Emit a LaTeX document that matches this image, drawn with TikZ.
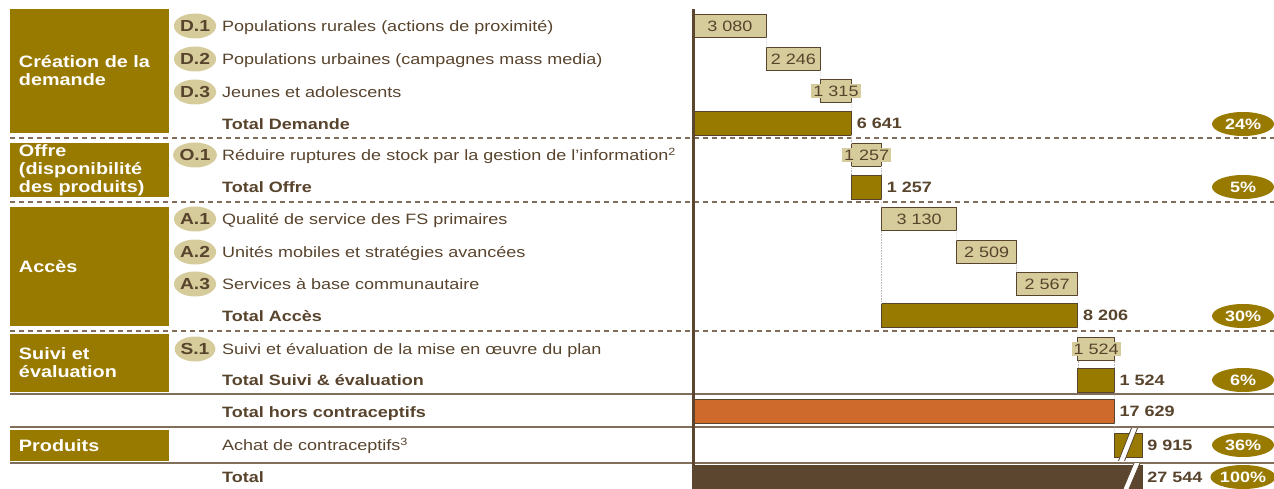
\documentclass[tikz,border=0pt]{standalone}
\usepackage{fontspec}
\setmainfont{Liberation Sans}[FakeStretch=1.2]
\usepackage{tikz}
\usetikzlibrary{
  positioning,%
  shapes.geometric
}
\definecolor{gold}{RGB}{153,122,0}
\definecolor{sand}{RGB}{214,204,155}
\definecolor{ink}{RGB}{88,68,45}
\definecolor{rulecol}{RGB}{128,110,90}
\definecolor{rust}{RGB}{205,106,44}
\definecolor{umber}{RGB}{92,70,48}
\tikzset{
  catbox/.style={fill=gold, anchor=north west, minimum width=159pt,
    text width=141pt, inner xsep=9pt, inner ysep=0pt, outer sep=0pt,
    align=left, text=white, font=\fontsize{16.5}{18}\selectfont\bfseries},
  badge/.style={ellipse, fill=sand, minimum width=33pt, minimum height=25pt,
    inner sep=0pt, text height=11pt, text depth=0pt, text=ink,
    font=\fontsize{16}{16}\selectfont\bfseries},
  rowtext/.style={anchor=west, inner sep=0pt, text height=11pt, text depth=0pt,
    text=ink, font=\fontsize{15}{15}\selectfont},
  rowtot/.style={rowtext, font=\fontsize{15}{15}\selectfont\bfseries},
  stepbar/.style={draw=ink, line width=0.8pt, fill=sand, anchor=west,
    minimum height=23pt, inner sep=0pt, outer sep=0pt},
  totbar/.style={stepbar, minimum height=24pt},
  valbox/.style={fill=sand, inner xsep=2pt, inner ysep=1.5pt, text height=10.7pt,
    text depth=0pt, text=ink, font=\fontsize{15}{15}\selectfont},
  totval/.style={inner sep=0pt, text height=11pt, text depth=0pt, text=ink,
    font=\fontsize{15}{15}\selectfont\bfseries},
  pct/.style={ellipse, fill=gold, minimum width=62pt, minimum height=24pt,
    inner sep=0pt, text height=11pt, text depth=0pt, text=white,
    font=\fontsize{15}{15}\selectfont\bfseries},
  joint/.style={densely dotted, gray!55, line width=0.6pt},
  dashrule/.style={rulecol, dash pattern=on 5pt off 4pt, line width=1.2pt},
  hrule/.style={rulecol, line width=2pt},
  breakline/.style={ink, line width=0.8pt}
}
\begin{document}
\begin{tikzpicture}[x=1pt, y=-1pt]
  \useasboundingbox (0,0) rectangle (1274,489);
  % separators
  \foreach \y in {138,202,331}
    \draw[dashrule] (10,\y) -- (1274,\y);
  \foreach \y in {394,427,463}
    \draw[hrule] (10,\y) -- (1274,\y);
  % categories
  \node[catbox, minimum height=124pt] (cdem) at (10,9) {Création de la\\demande};
  \node[catbox, minimum height=54pt] (coff) at (10,143) {Offre\\(disponibilité\\des produits)};
  \node[catbox, minimum height=119pt] (cacc) at (10,207) {Accès};
  \node[catbox, minimum height=58pt] (csui) at (10,334) {Suivi et\\évaluation};
  \node[catbox, minimum height=31pt] (cpro) at (10,430) {Produits};
  % lines of the plan
  \foreach \y/\t/\x [count=\i] in {26/D.1/Populations rurales (actions de proximité),
      59/D.2/Populations urbaines (campagnes mass media),
      92/D.3/Jeunes et adolescents,
      155/O.1/{Réduire ruptures de stock par la gestion de l’information\textsuperscript{2}},
      219/A.1/Qualité de service des FS primaires,
      252/A.2/Unités mobiles et stratégies avancées,
      284/A.3/Services à base communautaire,
      349/S.1/Suivi et évaluation de la mise en œuvre du plan} {
    \node[badge] (badge\i) at (195,\y) {\t};
    \node[rowtext] (row\i) at (222,\y) {\x};
  }
  \foreach \y/\x [count=\i] in {124/Total Demande, 187/Total Offre, 316/Total Accès,
      380/Total Suivi \& évaluation, 412/Total hors contraceptifs, 477/Total}
    \node[rowtot] (tot\i) at (222,\y) {\x};
  \node[rowtext] (achat) at (222,445) {Achat de contraceptifs\textsuperscript{3}};
  % waterfall, in thousands
  \begin{scope}[shift={(693,0)}, x=23.9pt]
    \foreach \n/\s/\l/\y/\v in {d1/0/3.080/26/3 080, d2/3.080/2.246/59/2 246,
        d3/5.326/1.315/91/1 315, o1/6.641/1.257/155/1 257,
        a1/7.898/3.130/219/3 130, a2/11.028/2.509/252/2 509,
        a3/13.537/2.567/284/2 567, s1/16.104/1.524/349/1 524} {
      \node[stepbar, minimum width=\l*23.9pt] (\n) at (\s,\y) {};
      \node[valbox] (\n-v) at (\n) {\v};
    }
    \foreach \n/\s/\l/\y/\v/\c in {td/0/6.641/123/6 641/gold,
        to/6.641/1.257/187/1 257/gold, ta/7.898/8.206/315/8 206/gold,
        ts/16.104/1.524/380/1 524/gold, th/0/17.629/411/17 629/rust,
        pa/17.629/1.16/445/9 915/gold, tt/0/18.79/477/27 544/umber} {
      \node[totbar, fill=\c, minimum width=\l*23.9pt] (\n) at (\s,\y) {};
      \node[totval, right=5pt of \n] (\n-v) {\v};
    }
    \foreach \a/\b in {d1.south east/d2.north west, d2.south east/d3.north west,
        d3.south east/td.north east, td.south east/o1.north west,
        o1.south west/to.north west, o1.south east/to.north east,
        to.south east/a1.north west, a1.south east/a2.north west,
        a2.south east/a3.north west, a1.south west/ta.north west,
        a3.south east/ta.north east, ta.south east/s1.north west,
        s1.south west/ts.north west, s1.south east/ts.north east,
        ts.south east/th.north east, th.south east/pa.north west}
      \draw[joint] (\a) -- (\b);
  \end{scope}
  % axis
  \draw[umber, line width=3pt] (693,9) -- (693,489);
  % broken scale
  \fill[white] (1131.5,428) -- (1137.5,428) -- (1124.5,461) -- (1118.5,461) -- cycle;
  \draw[breakline] (1131.5,428) -- (1118.5,461) (1137.5,428) -- (1124.5,461);
  \fill[white] (1134,463) -- (1140,463) -- (1129,489) -- (1123,489) -- cycle;
  \draw[breakline] (1134,463) -- (1123,489) (1140,463) -- (1129,489);
  % shares
  \foreach \y/\p [count=\i] in {124/24\%, 187/5\%, 316/30\%, 380/6\%, 445/36\%, 477/100\%}
    \node[pct] (pct\i) at (1243,\y) {\p};
\end{tikzpicture}
\end{document}
